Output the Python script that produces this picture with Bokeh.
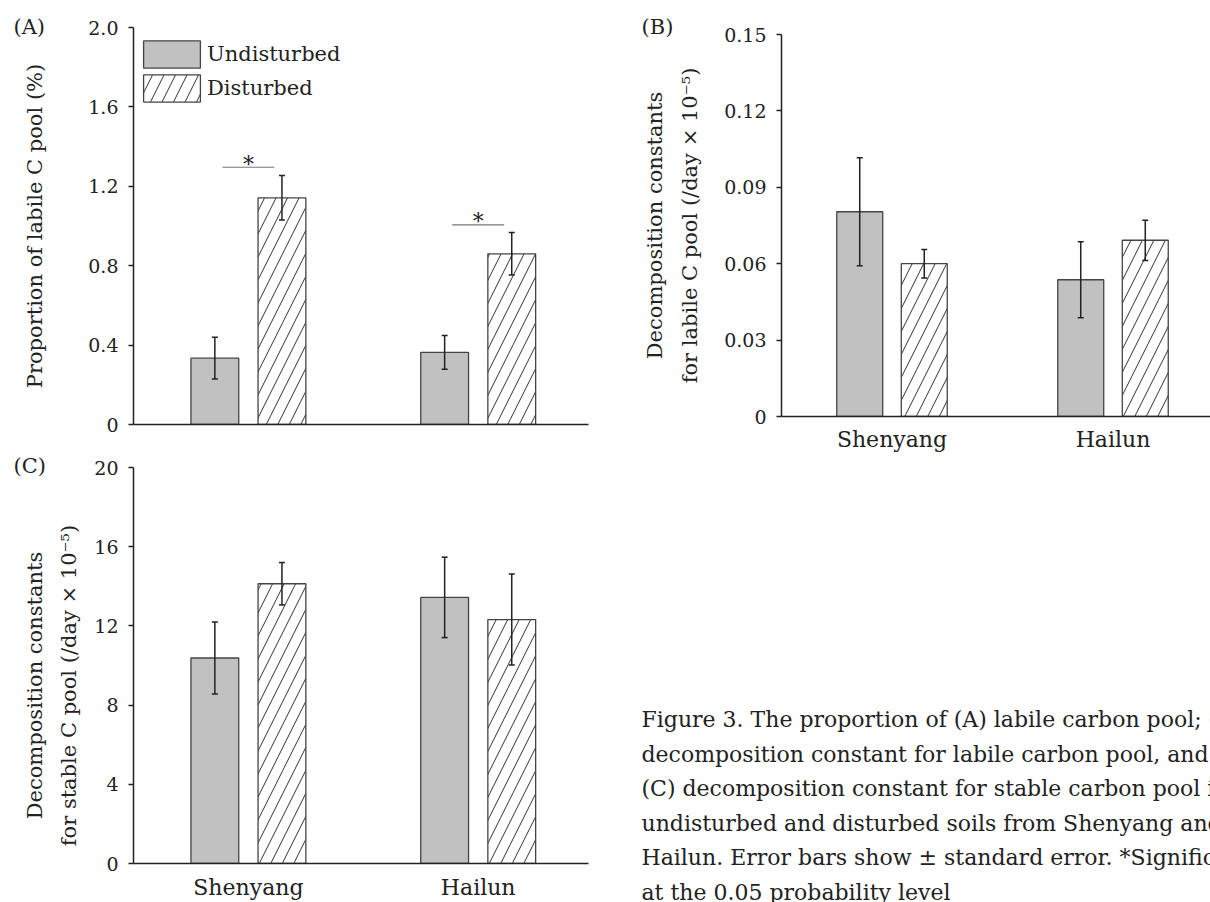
from bokeh.plotting import figure
from bokeh.models import (Range1d, FixedTicker, ColumnDataSource, Whisker, TeeHead,
                          Legend, LegendItem, Label)
from bokeh.layouts import row, column
from bokeh.embed import file_html
from bokeh.resources import INLINE
from bokeh.core.properties import value

# ---------------- data ----------------
sites = ["Shenyang", "Hailun"]
site_pos = [0.5, 1.5]
series_names = ["Undisturbed", "Disturbed"]

a_undist = [0.334, 0.363]
a_undist_se = [0.105, 0.085]
a_dist = [1.142, 0.860]
a_dist_se = [0.112, 0.107]
a_sig_y = [1.296, 1.006]
a_sig_mark = ["*", "*"]

b_undist = [0.0804, 0.0537]
b_undist_se = [0.0212, 0.0149]
b_dist = [0.0600, 0.0692]
b_dist_se = [0.0056, 0.0079]

c_undist = [10.38, 13.44]
c_undist_se = [1.82, 2.03]
c_dist = [14.13, 12.32]
c_dist_se = [1.07, 2.30]

a_ticks = [0, 0.4, 0.8, 1.2, 1.6, 2.0]
a_tick_labels = ["0", "0.4", "0.8", "1.2", "1.6", "2.0"]
b_ticks = [0, 0.03, 0.06, 0.09, 0.12, 0.15]
b_tick_labels = ["0", "0.03", "0.06", "0.09", "0.12", "0.15"]
c_ticks = [0, 4, 8, 12, 16, 20]
c_tick_labels = ["0", "4", "8", "12", "16", "20"]

NB = "\u00a0" * 6
a_ylabel = "Proportion of labile C pool (%)"
b_ylabel = "Decomposition constants\nfor labile C pool (/day \u00d7 10\u207b\u2075)"
c_ylabel = ("Decomposition constants" + NB + "\nfor stable C pool (/day \u00d7 10\u207b\u2075)" + NB)

caption_lines = [
    "Figure 3. The proportion of (A) labile carbon pool; (B)",
    "decomposition constant for labile carbon pool, and",
    "(C) decomposition constant for stable carbon pool in",
    "undisturbed and disturbed soils from Shenyang and",
    "Hailun. Error bars show \u00b1 standard error. *Significant",
    "at the 0.05 probability level",
]

# ---------------- style ----------------
FONT = "DejaVu Serif"
INK = "#222222"
GREY = "#c1c1c1"
EDGE = "#444444"
BAR_W = 0.208
OFF = 0.146


def make_panel(width, height, bl, br, bt, bb, xmax, ymax, ticks, tick_labels,
               undist, undist_se, dist, dist_se, ylabel, label_standoff,
               show_sites, site_standoff, panel_tag, tag_offset, tag_standoff):
    p = figure(width=width, height=height, x_range=Range1d(0, xmax),
               y_range=Range1d(0, ymax), toolbar_location=None,
               output_backend="svg", min_border_left=bl, min_border_right=br,
               min_border_top=bt, min_border_bottom=bb)
    p.outline_line_color = None
    p.grid.visible = False
    p.background_fill_color = "white"
    p.border_fill_color = "white"

    # panel tag as a left-aligned title pulled to the left of the frame
    p.title.text = panel_tag
    p.title.align = "left"
    p.title.offset = tag_offset
    p.title.standoff = tag_standoff
    p.title.vertical_align = "bottom"
    p.title.text_font = FONT
    p.title.text_font_size = "21px"
    p.title.text_font_style = "normal"
    p.title.text_color = INK

    xu = [s - OFF for s in site_pos]
    xd = [s + OFF for s in site_pos]
    su = ColumnDataSource(dict(x=xu, top=undist, up=[v + e for v, e in zip(undist, undist_se)],
                               lo=[v - e for v, e in zip(undist, undist_se)]))
    sd = ColumnDataSource(dict(x=xd, top=dist, up=[v + e for v, e in zip(dist, dist_se)],
                               lo=[v - e for v, e in zip(dist, dist_se)]))
    r_u = p.vbar(x="x", top="top", width=BAR_W, bottom=0, source=su,
                 fill_color=GREY, line_color=EDGE, line_width=1.3)
    r_d = p.vbar(x="x", top="top", width=BAR_W, bottom=0, source=sd,
                 fill_color="white", line_color=EDGE, line_width=1.3,
                 hatch_pattern="/", hatch_color="#333333", hatch_scale=23,
                 hatch_weight=1)
    for src in (su, sd):
        w = Whisker(base="x", upper="up", lower="lo", source=src, dimension="height",
                    line_color=INK, line_width=1.5, level="overlay",
                    upper_head=TeeHead(size=6, line_color=INK, line_width=1.5),
                    lower_head=TeeHead(size=6, line_color=INK, line_width=1.5))
        p.add_layout(w)

    # y axis
    ya = p.yaxis[0]
    ya.ticker = FixedTicker(ticks=ticks)
    ya.major_label_overrides = dict(zip(ticks, tick_labels))
    ya.minor_tick_line_color = None
    ya.major_tick_out = 5
    ya.major_tick_in = 0
    ya.major_tick_line_color = INK
    ya.major_tick_line_width = 1.3
    ya.axis_line_color = INK
    ya.axis_line_width = 1.5
    ya.major_label_text_font = FONT
    ya.major_label_text_font_size = "19px"
    ya.major_label_text_color = INK
    ya.major_label_standoff = 10
    ya.axis_label = ylabel
    ya.axis_label_text_font = FONT
    ya.axis_label_text_font_size = "21px"
    ya.axis_label_text_font_style = "normal"
    ya.axis_label_text_color = INK
    ya.axis_label_standoff = label_standoff
    ya.axis_label_text_line_height = 1.45

    # x axis
    xa = p.xaxis[0]
    xa.axis_line_color = INK
    xa.axis_line_width = 1.5
    xa.major_tick_line_color = None
    xa.minor_tick_line_color = None
    xa.major_tick_out = 0
    xa.major_tick_in = 0
    if show_sites:
        xa.ticker = FixedTicker(ticks=site_pos)
        xa.major_label_overrides = dict(zip(site_pos, sites))
        xa.major_label_text_font = FONT
        xa.major_label_text_font_size = "22px"
        xa.major_label_text_color = INK
        xa.major_label_standoff = site_standoff
    else:
        xa.ticker = FixedTicker(ticks=[])
    return p, r_u, r_d


# Panel A  (frame: x 133..588, y 27..424)
pA, rAu, rAd = make_panel(600, 448, 133, 12, 27, 24, 1.98, 2.0, a_ticks, a_tick_labels,
                          a_undist, a_undist_se, a_dist, a_dist_se, a_ylabel, 38,
                          False, 0, "(A)", -120, -22)
sig_src = ColumnDataSource(dict(x0=[s - 0.113 for s in site_pos],
                                x1=[s + 0.113 for s in site_pos],
                                y=a_sig_y, xm=site_pos, t=a_sig_mark))
pA.segment(x0="x0", y0="y", x1="x1", y1="y", source=sig_src, line_color="#777777",
           line_width=1.2)
pA.text(x="xm", y="y", text="t", source=sig_src, text_font=value(FONT),
        text_font_size="22px", text_align="center", text_baseline="middle",
        text_color=INK, y_offset=-3)
legend = Legend(items=[LegendItem(label=series_names[0], renderers=[rAu]),
                       LegendItem(label=series_names[1], renderers=[rAd])],
                location=(3, 319), orientation="vertical", padding=0, margin=0,
                spacing=-2, glyph_width=71, glyph_height=34, label_height=34,
                label_standoff=0, border_line_color=None, background_fill_alpha=0,
                label_text_font=FONT, label_text_font_size="21px",
                label_text_color=INK)
pA.add_layout(legend)

# Panel C  (frame: x 133..588, y 467..864)
pC, _, _ = make_panel(600, 454, 133, 12, 19, 38, 1.98, 20, c_ticks, c_tick_labels,
                      c_undist, c_undist_se, c_dist, c_dist_se, c_ylabel, 10,
                      True, 11, "(C)", -120, -20)

# Panel B  (frame: x 781..1210, y 34..416)
pB, _, _ = make_panel(610, 470, 181, 0, 34, 54, 429 / 221, 0.15, b_ticks, b_tick_labels,
                      b_undist, b_undist_se, b_dist, b_dist_se, b_ylabel, 19,
                      True, 10, "(B)", -140, -8)

# Caption (pixel-like ranges: x from left, y from top)
pCap = figure(width=610, height=432, x_range=Range1d(0, 610), y_range=Range1d(432, 0),
              x_axis_type=None, y_axis_type=None, toolbar_location=None,
              output_backend="svg", min_border=0)
pCap.outline_line_color = None
pCap.grid.visible = False
cap_baselines = [249, 283.5, 318, 352.5, 387, 421.5]
for line, yb in zip(caption_lines, cap_baselines):
    pCap.add_layout(Label(x=41, y=yb, text=line, text_font=FONT, text_font_size="22px",
                          text_color=INK, text_baseline="alphabetic"))
pCap.scatter(x=[0], y=[0], size=0, alpha=0)

layout = row(column(pA, pC, spacing=0), column(pB, row(pCap, spacing=0), spacing=0),
             spacing=0)

open("out.html", "w").write(file_html(layout, INLINE))
